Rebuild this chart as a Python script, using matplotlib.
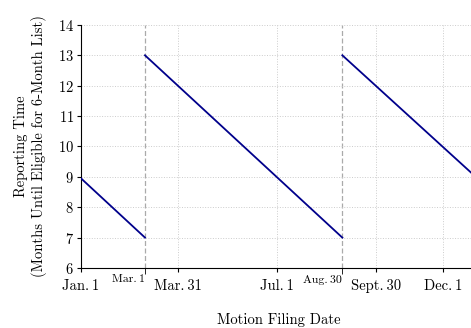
import numpy as np
import matplotlib.pyplot as plt

plt.rcParams['font.family'] = ['cmr10', 'DejaVu Serif']
plt.rcParams['mathtext.fontset'] = 'cm'
plt.rcParams['axes.formatter.use_mathtext'] = True

# day of year (Jan 1 = 0)
major_days = [0, 89, 181, 272, 334]
major_labels = ["Jan.\u20091", "Mar.\u200931", "Jul.\u20091", "Sept.\u200930", "Dec.\u20091"]
cutoff_days = [59, 241]
cutoff_labels = ["Mar.\u20091", "Aug.\u200930"]

# reporting time segments (filing day, months until eligible)
seg_days = [[0, 59], [59, 241], [241, 364]]
seg_months = [[8.95, 7.0], [13.0, 7.0], [13.0, 9.0]]

fig = plt.figure(figsize=(4.71, 3.28), dpi=100)
ax = fig.add_axes([0.172, 0.183, 0.838, 0.741])

for d in cutoff_days:
    ax.axvline(d, color='#aaaaaa', ls=(0, (4, 2)), lw=0.9, zorder=1)

for xs, ys in zip(seg_days, seg_months):
    ax.plot(xs, ys, color='#00008B', lw=1.3, zorder=3)

ax.set_xlim(0, 364)
ax.set_ylim(6, 14)
ax.set_yticks(np.arange(6, 15, 1))
ax.set_xticks(major_days)
ax.set_xticklabels(major_labels, fontsize=10.5)
ax.set_xticks(cutoff_days, minor=True)
ax.set_xticklabels(cutoff_labels, minor=True, fontsize=8.5)
for lbl in ax.get_xticklabels(minor=True):
    lbl.set_horizontalalignment('right')
ax.tick_params(axis='x', which='minor', pad=1, length=4, direction='out')
ax.tick_params(axis='x', which='major', pad=5, length=3, direction='out')
ax.tick_params(axis='y', labelsize=10.5, length=3, pad=2)

ax.grid(True, which='major', color='#cccccc', ls=':', lw=0.7)
ax.spines['top'].set_visible(False)
ax.spines['right'].set_visible(False)

ax.set_xlabel("Motion Filing Date", fontsize=10.5, labelpad=14)
ax.set_ylabel("Reporting Time\n(Months Until Eligible for 6-Month List)", fontsize=10.5, labelpad=8)

fig.savefig("out.png", dpi=100)
